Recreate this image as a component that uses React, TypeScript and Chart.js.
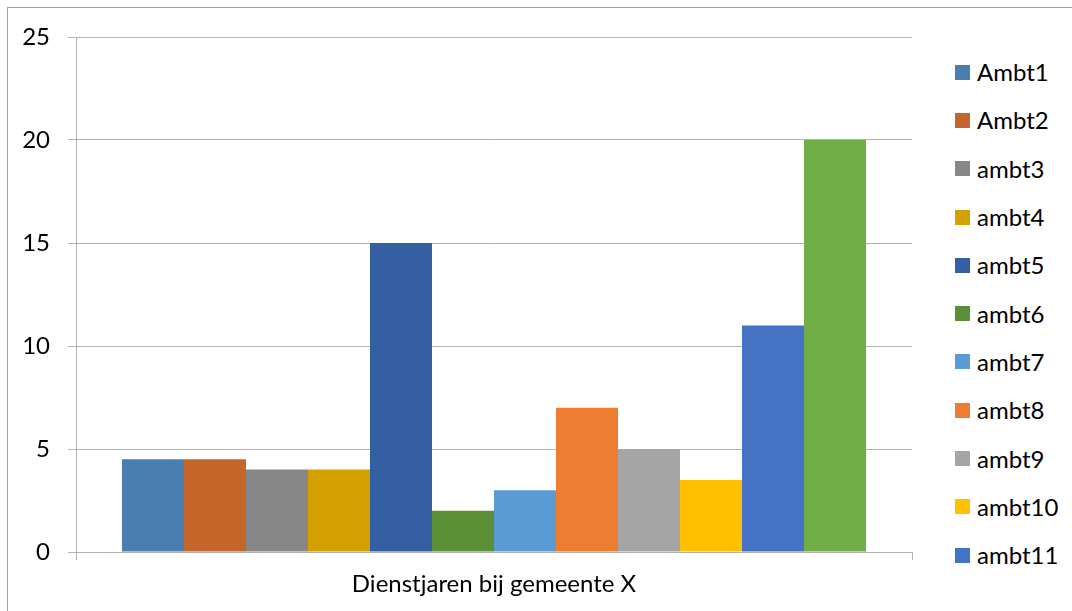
import React, { useEffect, useRef } from "react";
import { Chart, registerables } from "chart.js";

Chart.register(...registerables);

const categories = ["Dienstjaren bij gemeente X"];
const seriesNames = ["Ambt1", "Ambt2", "ambt3", "ambt4", "ambt5", "ambt6", "ambt7", "ambt8", "ambt9", "ambt10", "ambt11", "ambt12"];
const seriesValues = [4.5, 4.5, 4, 4, 15, 2, 3, 7, 5, 3.5, 11, 20];
const seriesColors = ["#4a7eb0", "#c4652a", "#878787", "#d4a000", "#355fa3", "#5a8f38", "#5b9bd5", "#ed7d31", "#a5a5a5", "#ffc000", "#4472c4", "#70ad47"];
const yTicks = [0, 5, 10, 15, 20, 25];

const FONT = "Lato, 'Open Sans', sans-serif";
const GRID = "#b3b3b3";

export default function App() {
  const ref = useRef<HTMLCanvasElement | null>(null);

  useEffect(() => {
    if (!ref.current) return;
    const chart = new Chart(ref.current, {
      type: "bar",
      data: {
        labels: categories,
        datasets: seriesNames.map((name, i) => ({
          label: name,
          data: [seriesValues[i]],
          backgroundColor: seriesColors[i],
          borderWidth: 0,
          categoryPercentage: 0.89,
          barPercentage: 1,
        })),
      },
      options: {
        responsive: false,
        animation: false,
        layout: { padding: { top: 37, right: 23, left: 0, bottom: 0 } },
        plugins: { legend: { display: false }, tooltip: { enabled: false } },
        scales: {
          y: {
            min: yTicks[0],
            max: yTicks[yTicks.length - 1],
            afterFit: (s: any) => { s.width = 76; },
            afterBuildTicks: (s: any) => { s.ticks = yTicks.map((v) => ({ value: v })); },
            ticks: { color: "#000", font: { family: FONT, size: 24 }, padding: 18 },
            grid: { color: GRID, lineWidth: 1, tickLength: 8 },
            border: { color: GRID, width: 1 },
          },
          x: {
            afterFit: (s: any) => { s.height = 59; },
            ticks: { color: "#000", font: { family: FONT, size: 24 }, padding: 10 },
            grid: { color: GRID, drawOnChartArea: false, tickLength: 8, offset: true },
            border: { color: GRID, width: 1 },
          },
        },
      },
    });
    return () => chart.destroy();
  }, []);

  return (
    <div style={{ position: "absolute", left: 0, top: 0, width: 1072, height: 611, overflow: "hidden", background: "#fff", fontFamily: FONT }}>
      <div style={{ position: "absolute", left: 7, top: 7, width: 1100, height: 700, border: "1px solid #a0a0a0" }} />
      <canvas ref={ref} width={935} height={611} style={{ position: "absolute", left: 0, top: 0 }} />
      <div style={{ position: "absolute", left: 955, top: 58, width: 117, height: 520, overflow: "hidden" }}>
        {seriesNames.map((name, i) => (
          <div key={name} style={{ display: "flex", alignItems: "center", height: 28.3, marginBottom: 20 }}>
            <div style={{ width: 15, height: 15, background: seriesColors[i], marginRight: 7, flex: "none" }} />
            <span style={{ fontSize: 24, color: "#000", lineHeight: "28px", whiteSpace: "nowrap" }}>{name}</span>
          </div>
        ))}
      </div>
    </div>
  );
}
